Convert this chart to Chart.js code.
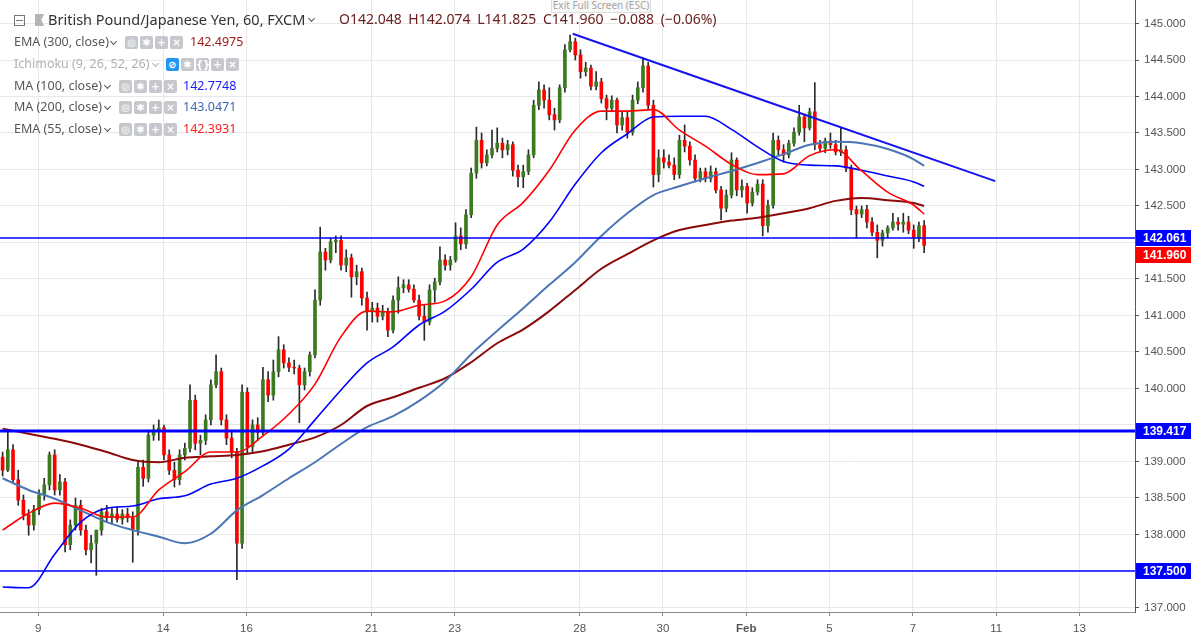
<!DOCTYPE html>
<html>
<head>
<meta charset="utf-8">
<title>British Pound/Japanese Yen, 60, FXCM</title>
<script src="https://cdn.jsdelivr.net/npm/chart.js@4.4.1/dist/chart.umd.min.js"></script>
<style>
  html, body { margin: 0; padding: 0; background: #fff; }
  #wrap { position: relative; width: 1191px; height: 640px; overflow: hidden; }
  #chart { position: absolute; left: 0; top: 0; }
  .ov { position: absolute; white-space: nowrap; font-family: 'Noto Sans', sans-serif; pointer-events: none; }
  .row { font-size: 12.5px; color: #555; line-height: 16px; }
  .ic { position: absolute; width: 13px; height: 13px; border-radius: 2px; background: #c6c8cd; color: #fff;
        font: bold 10px/13px 'DejaVu Sans', sans-serif; text-align: center; }
  .chev { position: absolute; width: 4px; height: 4px; border-right: 1.5px solid #555; border-bottom: 1.5px solid #555;
          transform: rotate(45deg); }
</style>
</head>
<body>
<div id="wrap">
  <canvas id="chart" width="1191" height="640"></canvas>
  <div id="legend"></div>
</div>
<script>
/* =============================================
   GBPJPY 60 min - candles, moving averages, levels
   ============================================= */

// candles, 3h buckets, oldest first
const opens = [
  139.06,138.88,139.16,138.75,138.47,138.27,138.13,138.34,138.54,138.68,
  139.09,138.61,138.72,137.86,138.13,138.40,138.06,137.79,137.88,138.06,
  138.31,138.23,138.28,138.21,138.28,138.23,138.06,138.92,138.77,139.36,
  139.43,139.46,139.09,138.88,138.75,139.09,139.18,139.84,139.25,139.29,
  139.57,140.05,140.23,139.57,139.32,139.13,137.88,139.95,139.20,139.50,
  139.40,140.12,139.91,140.23,140.53,140.35,140.29,140.28,140.05,140.23,
  140.46,141.21,141.87,141.76,142.01,142.03,141.69,141.79,141.53,141.60,
  141.24,141.05,141.10,140.99,141.05,140.80,141.21,141.38,141.42,141.36,
  141.21,140.99,140.91,141.35,141.46,141.76,141.69,141.76,142.09,141.98,
  142.38,142.95,143.40,143.09,143.20,143.29,143.36,143.27,143.34,142.99,
  142.90,142.97,143.20,143.88,144.09,143.95,143.75,143.68,144.12,144.64,
  144.75,144.57,144.34,144.39,144.14,144.20,143.97,143.84,143.95,143.61,
  143.71,143.51,143.95,144.12,144.42,143.88,142.93,143.16,143.10,143.06,
  142.93,143.40,143.32,143.13,142.88,142.97,142.88,142.97,142.72,142.47,
  142.65,143.13,142.72,142.77,142.54,142.69,142.80,142.23,142.51,143.40,
  143.27,143.20,143.36,143.51,143.72,143.57,143.79,143.34,143.29,143.39,
  143.34,143.24,143.27,143.02,142.45,142.39,142.45,142.28,142.14,142.03,
  142.13,142.20,142.28,142.25,142.28,142.17,142.06,142.23
];
const highs = [
  139.13,139.43,139.23,138.88,138.54,138.34,138.40,138.61,138.77,139.13,
  139.16,138.82,138.77,138.20,138.50,138.47,138.13,137.99,138.06,138.36,
  138.40,138.36,138.38,138.34,138.36,138.31,138.99,139.02,139.43,139.50,
  139.57,139.50,139.16,138.99,139.16,139.25,140.05,139.91,139.36,139.64,
  140.12,140.46,140.28,139.64,139.43,139.18,140.05,140.01,139.57,139.60,
  140.29,140.23,140.39,140.71,140.60,140.42,140.39,140.32,140.28,140.50,
  141.35,142.21,141.92,142.06,142.09,142.09,141.90,141.84,141.69,141.65,
  141.32,141.18,141.17,141.14,141.10,141.27,141.53,141.49,141.49,141.42,
  141.28,141.14,141.42,141.51,141.94,141.83,141.81,142.27,142.20,142.45,
  143.02,143.58,143.50,143.27,143.54,143.57,143.43,143.40,143.38,143.06,
  143.06,143.27,143.95,144.20,144.16,144.12,143.84,144.16,144.71,144.84,
  144.80,144.64,144.47,144.43,144.34,144.25,144.02,144.01,143.98,143.79,
  143.79,144.02,144.20,144.53,144.47,143.95,143.27,143.27,143.20,143.16,
  143.47,143.61,143.38,143.20,143.02,143.02,143.05,143.02,142.77,142.72,
  143.23,143.16,142.86,142.81,142.75,142.86,142.86,142.58,143.50,143.46,
  143.34,143.40,143.57,143.88,143.76,143.84,144.19,143.40,143.43,143.50,
  143.40,143.57,143.32,143.06,142.50,142.50,142.51,142.34,142.24,142.17,
  142.23,142.40,142.34,142.40,142.36,142.24,142.28,142.30
];
const lows = [
  138.80,138.86,138.72,138.40,138.20,137.99,138.06,138.27,138.47,138.61,
  138.54,138.54,137.76,137.79,138.06,137.99,137.72,137.61,137.44,137.99,
  138.17,138.14,138.17,138.14,138.17,137.62,137.99,138.66,138.72,139.29,
  139.29,139.02,138.82,138.65,138.68,139.02,139.13,139.16,139.09,139.23,
  139.50,140.01,139.50,139.23,139.05,137.38,137.81,139.12,139.13,139.29,
  139.36,139.82,139.84,140.16,140.28,140.23,140.20,139.53,139.98,140.17,
  140.42,141.14,141.62,141.72,141.86,141.62,141.60,141.25,141.42,141.14,
  140.80,140.91,140.91,140.94,140.71,140.76,141.03,141.31,141.32,141.18,
  140.94,140.66,140.87,141.18,141.42,141.62,141.62,141.73,141.90,141.92,
  142.34,142.88,143.02,143.05,143.16,143.24,143.16,143.20,142.91,142.76,
  142.75,142.93,143.16,143.82,143.84,143.68,143.54,143.64,144.06,144.61,
  144.50,144.25,144.28,144.09,144.09,143.91,143.68,143.79,143.50,143.54,
  143.43,143.47,143.90,144.06,143.82,142.76,142.83,143.02,143.02,142.86,
  142.88,143.24,143.06,142.83,142.83,142.83,142.83,142.68,142.31,142.42,
  142.61,142.64,142.62,142.40,142.50,142.65,142.09,142.14,142.47,143.20,
  143.10,143.16,143.32,143.47,143.38,143.54,143.27,143.24,143.23,143.29,
  143.20,143.19,142.97,142.38,142.06,142.34,142.20,142.09,141.79,141.95,
  142.06,142.17,142.17,142.14,142.12,141.92,142.01,141.86
];
const closes = [
  138.88,139.16,138.75,138.47,138.27,138.13,138.34,138.54,138.68,139.09,
  138.61,138.72,137.86,138.13,138.40,138.06,137.79,137.88,138.06,138.31,
  138.23,138.28,138.21,138.28,138.23,138.06,138.92,138.77,139.36,139.43,
  139.46,139.09,138.88,138.75,139.09,139.18,139.84,139.25,139.29,139.57,
  140.05,140.23,139.57,139.32,139.13,137.88,139.95,139.20,139.50,139.40,
  140.12,139.91,140.23,140.53,140.35,140.29,140.28,140.05,140.23,140.46,
  141.21,141.87,141.76,142.01,142.03,141.69,141.79,141.53,141.60,141.24,
  141.05,141.10,140.99,141.05,140.80,141.21,141.38,141.42,141.36,141.21,
  140.99,140.91,141.35,141.46,141.76,141.69,141.76,142.09,141.98,142.38,
  142.95,143.40,143.09,143.20,143.29,143.36,143.27,143.34,142.99,142.90,
  142.97,143.20,143.88,144.09,143.95,143.75,143.68,144.12,144.64,144.75,
  144.57,144.34,144.39,144.14,144.20,143.97,143.84,143.95,143.61,143.71,
  143.51,143.95,144.12,144.42,143.88,142.93,143.16,143.10,143.06,142.93,
  143.40,143.32,143.13,142.88,142.97,142.88,142.97,142.72,142.47,142.65,
  143.13,142.72,142.77,142.54,142.69,142.80,142.23,142.51,143.40,143.27,
  143.20,143.36,143.51,143.72,143.57,143.79,143.34,143.29,143.39,143.34,
  143.24,143.27,143.02,142.45,142.39,142.45,142.28,142.14,142.03,142.13,
  142.20,142.28,142.25,142.28,142.17,142.06,142.23,141.96
];

// moving averages read at these candle numbers
const maCandle = [0,5,10,15,20,25,30,35,40,45,50,55,60,65,70,75,80,85,90,95,100,105,110,115,120,125,130,135,140,145,150,155,160,165,170,175,177];
const ema55 = [138.06,138.29,138.43,138.36,138.24,138.24,138.61,138.86,139.13,139.13,139.35,139.65,140.06,140.71,141.06,141.05,141.14,141.20,141.53,142.24,142.55,142.99,143.54,143.80,143.80,143.82,143.54,143.32,143.07,142.93,142.94,143.19,143.27,142.98,142.69,142.51,142.39];
const ma100 = [137.28,137.27,137.73,138.17,138.36,138.39,138.49,138.53,138.69,138.77,138.94,139.17,139.57,139.98,140.35,140.57,140.87,141.06,141.36,141.73,141.91,142.28,142.80,143.23,143.49,143.72,143.73,143.73,143.55,143.31,143.11,143.06,143.05,142.99,142.91,142.83,142.77];
const ma200 = [138.77,138.61,138.49,138.33,138.17,138.06,137.97,137.88,138.01,138.33,138.54,138.77,138.99,139.24,139.47,139.62,139.83,140.10,140.47,140.79,141.10,141.42,141.73,142.09,142.40,142.65,142.77,142.88,142.98,143.09,143.21,143.34,143.38,143.36,143.28,143.14,143.05];
const ema300 = [139.45,139.38,139.31,139.23,139.13,139.02,138.99,139.05,139.07,139.09,139.14,139.23,139.33,139.50,139.76,139.88,140.01,140.14,140.36,140.62,140.81,141.06,141.35,141.64,141.84,142.03,142.17,142.24,142.30,142.34,142.40,142.47,142.57,142.61,142.58,142.54,142.50];

// drawn levels
const levels = [142.061, 139.417, 137.5];
const levelWidths = [1.5, 3, 1.5];
const trendHours = [330, 573.5];
const trendPrices = [144.86, 142.84];

// axis ticks
const xTickHours = [22, 94, 142, 214, 262, 334, 382, 430, 478, 526, 574, 622];
const xTickLabels = ['9', '14', '16', '21', '23', '28', '30', 'Feb', '5', '7', '11', '13'];
const yTicks = [137, 137.5, 138, 138.5, 139, 139.5, 140, 140.5, 141, 141.5, 142, 142.5, 143, 143.5, 144, 144.5, 145];

// price tags on the right axis
const tagValues = [142.061, 141.960, 139.417, 137.5];
const tagColors = ['#0000ff', '#ff0000', '#0000ff', '#0000ff'];

const UP = '#3b7a1f';
const DOWN = '#ff0000';
const WICK = '#2a2a2a';
const hourOf = i => 1.5 + 3 * i;

const tagPlugin = {
    id: 'priceTags',
    afterDraw(chart) {
        const { ctx, chartArea } = chart;
        const y = chart.scales.y;
        let prevBottom = -Infinity;
        ctx.save();
        tagValues.forEach((v, i) => {
            let cy = Math.round(y.getPixelForValue(v));
            if (cy - 8 < prevBottom) cy = prevBottom + 9;
            ctx.fillStyle = tagColors[i];
            ctx.fillRect(chartArea.right + 1, cy - 8, 60, 16);
            ctx.fillStyle = '#fff';
            ctx.font = 'bold 12px "Liberation Sans", Arial, sans-serif';
            ctx.textBaseline = 'middle';
            ctx.fillText(v.toFixed(3), chartArea.right + 8, cy + 1);
            prevBottom = cy + 8;
        });
        ctx.restore();
    }
};

const lineDs = (data, color, width) => ({
    type: 'line',
    data,
    borderColor: color,
    borderWidth: width,
    pointRadius: 0,
    fill: false,
    cubicInterpolationMode: 'monotone'
});

const maPoints = arr => arr.map((v, k) => ({ x: hourOf(maCandle[k]), y: v }));

const datasets = [];
levels.forEach((lv, k) => {
    datasets.push(lineDs([{ x: 0, y: lv }, { x: 654, y: lv }], '#0000ff', levelWidths[k]));
});
datasets.push(lineDs(trendHours.map((h, k) => ({ x: h, y: trendPrices[k] })), '#1414f0', 2));
datasets.push(lineDs(maPoints(ema55), '#ff0000', 1.6));
datasets.push(lineDs(maPoints(ma100), '#0000ff', 1.6));
datasets.push(lineDs(maPoints(ma200), '#4a76b5', 2));
datasets.push(lineDs(maPoints(ema300), '#8b0a0a', 2));
datasets.push({
    type: 'bar',
    data: opens.map((o, i) => ({ x: hourOf(i), y: [o, closes[i]] })),
    backgroundColor: opens.map((o, i) => closes[i] >= o ? UP : DOWN),
    barThickness: 3,
    grouped: false,
    borderWidth: 0,
    borderSkipped: false
});
datasets.push({
    type: 'bar',
    data: highs.map((h, i) => ({ x: hourOf(i), y: [lows[i], h] })),
    backgroundColor: WICK,
    barThickness: 1,
    grouped: false,
    borderWidth: 0,
    borderSkipped: false
});

const axisFont = { family: "'Liberation Sans', Arial, sans-serif", size: 11.5 };

new Chart(document.getElementById('chart'), {
    type: 'bar',
    data: { datasets },
    options: {
        responsive: false,
        animation: false,
        devicePixelRatio: 1,
        layout: { padding: 0 },
        plugins: { legend: { display: false }, tooltip: { enabled: false } },
        scales: {
            x: {
                type: 'linear',
                min: 0,
                max: 654,
                offset: false,
                grid: { offset: false, color: '#e8e8e8', tickColor: '#8a8a8a', tickLength: 4 },
                border: { color: '#8a8a8a' },
                afterBuildTicks: scale => { scale.ticks = xTickHours.map(v => ({ value: v })); },
                afterFit: scale => { scale.height = 28; scale.paddingLeft = 0; scale.paddingRight = 0; },
                ticks: {
                    autoSkip: false,
                    maxRotation: 0,
                    color: '#555',
                    padding: 6,
                    font: c => ({ ...axisFont, weight: c.index === 7 ? 'bold' : 'normal' }),
                    callback: (v, idx) => xTickLabels[idx]
                }
            },
            y: {
                type: 'linear',
                position: 'right',
                min: 136.938,
                max: 145.322,
                grid: { color: '#e8e8e8', tickColor: '#555', tickLength: 4 },
                border: { color: '#555' },
                afterBuildTicks: scale => { scale.ticks = yTicks.map(v => ({ value: v })); },
                afterFit: scale => { scale.width = 56; scale.paddingTop = 0; scale.paddingBottom = 0; },
                ticks: {
                    color: '#555',
                    padding: 5,
                    font: axisFont,
                    // labels hidden under a price tag are skipped
                    callback: v => tagValues.some(t => Math.abs(t - v) < 0.16) ? '' : Number(v).toFixed(3)
                }
            }
        }
    },
    plugins: [tagPlugin]
});

/* ---------- legend overlay ---------- */
const legendRows = [
    { cy: 43, text: 'EMA (300, close)', chev: 111, iconX: 125, icons: 4, value: '142.4975', valueX: 190, color: '#a11b1b' },
    { cy: 65, text: 'Ichimoku (9, 26, 52, 26)', chev: 153, iconX: 166, icons: 5, faded: true },
    { cy: 87, text: 'MA (100, close)', chev: 105, iconX: 119, icons: 4, value: '142.7748', valueX: 183, color: '#1a1aff' },
    { cy: 108, text: 'MA (200, close)', chev: 105, iconX: 119, icons: 4, value: '143.0471', valueX: 183, color: '#3d68b3' },
    { cy: 130, text: 'EMA (55, close)', chev: 105, iconX: 119, icons: 4, value: '142.3931', valueX: 183, color: '#ff1a1a' }
];
const glyphs = ['\u25CE', '\u2731', '+', '\u00D7'];
const glyphsIchi = ['\u2298', '\u2731', '{}', '+', '\u00D7'];

let html = '';
// title line
html += '<div class="ov" style="left:14px;top:15px;width:9px;height:9px;border:1px solid #777;"></div>';
html += '<div class="ov" style="left:16px;top:20px;width:7px;height:1px;background:#777;"></div>';
html += '<div class="ov" style="left:35px;top:14px;width:9px;height:12px;background:#b5b5b5;clip-path:polygon(0 0,100% 0,70% 50%,100% 100%,0 100%);"></div>';
html += '<div class="ov" style="left:48px;top:9px;font-size:14.5px;line-height:20px;color:#333;">British Pound/Japanese Yen, 60, FXCM</div>';
html += '<div class="chev" style="left:309px;top:16px;"></div>';
html += '<div class="ov" style="left:339px;top:9px;font-size:14px;line-height:20px;color:#6a2020;word-spacing:3px;">O142.048 H142.074 L141.825 C141.960 \u22120.088 (\u22120.06%)</div>';
// exit full screen hint
html += '<div class="ov" style="left:551px;top:-4px;width:98px;height:15px;border:1px solid #ddd;background:#f8f8f8;font-size:10px;line-height:17px;color:#a5a5a5;text-align:center;">Exit Full Screen (ESC)</div>';

legendRows.forEach(r => {
    const col = r.faded ? '#b0b0b0' : '#555';
    html += `<div class="ov row" style="left:14px;top:${r.cy - 9}px;color:${col};">${r.text}</div>`;
    html += `<div class="chev" style="left:${r.chev}px;top:${r.cy - 4}px;border-color:${col};"></div>`;
    for (let k = 0; k < r.icons; k++) {
        const g = r.faded ? glyphsIchi[k] : glyphs[k];
        const bg = r.faded && k === 0 ? '#2196f3' : '#c6c8cd';
        html += `<div class="ov ic" style="left:${r.iconX + k * 15}px;top:${r.cy - 7}px;background:${bg};">${g}</div>`;
    }
    if (r.value) {
        html += `<div class="ov row" style="left:${r.valueX}px;top:${r.cy - 9}px;color:${r.color};">${r.value}</div>`;
    }
});
document.getElementById('legend').innerHTML = html;
</script>
</body>
</html>
